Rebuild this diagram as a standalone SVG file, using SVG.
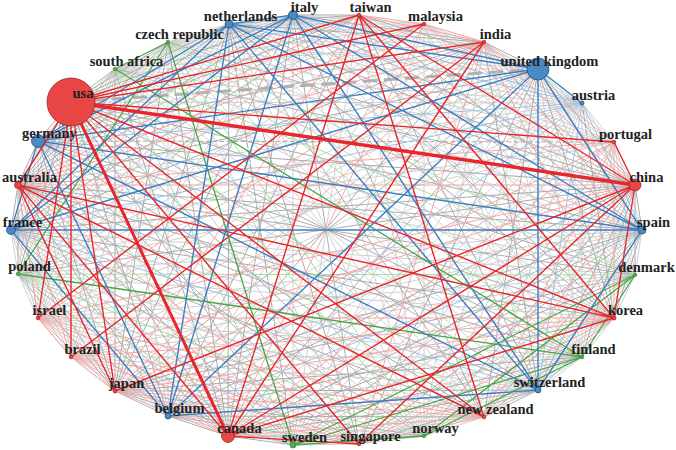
<svg xmlns="http://www.w3.org/2000/svg" width="676" height="450" viewBox="0 0 676 450">
<style>
.e{fill:none;stroke-linecap:round;stroke-linejoin:round}
.g2{stroke:#d0d0d0;stroke-width:1}
.g1{stroke:#acacac;stroke-width:1}
.rl{stroke:#f5a5a5;stroke-width:1}
.rs{stroke:#e8262b;stroke-width:1.4}
.bl{stroke:#9cc2e6;stroke-width:1}
.bs{stroke:#3d7fc1;stroke-width:1.4}
.gl{stroke:#a6dba6;stroke-width:1}
.gs{stroke:#45a845;stroke-width:1.3}
.dash{stroke:#a8a8a8;stroke-width:1;stroke-dasharray:4 3}
.r{fill:#e84545;stroke:#9a2a2a;stroke-width:0.8}
.b{fill:#4a88c6;stroke:#25527f;stroke-width:0.8}
.g{fill:#4fae4f;stroke:#2d6e2d;stroke-width:0.6}
text{font-family:"Liberation Serif","Times New Roman",serif;font-weight:bold;font-size:14.5px;fill:#222;text-anchor:middle}
</style>
<g id="connectors">
<path class="e g2" d="M38 318 538 69M38 318 38 141M38 318 11 230M38 318 293 15M38 318 229 24M38 318 642 230M38 318 538 390M38 318 168 416M71 357 538 69M71 357 38 141M71 357 11 230M71 357 293 15M71 357 229 24M71 357 642 230M71 357 538 390M71 357 168 416M614 142 538 69M614 142 11 230M614 142 293 15M614 142 229 24M614 142 642 230M614 142 538 390M614 142 168 416M424 24 538 69M424 24 38 141M424 24 11 230M424 24 293 15M424 24 229 24M424 24 642 230M424 24 538 390M424 24 168 416M582 103 71 102M582 103 18 185M582 103 38 318M582 103 71 357M582 103 115 391M582 103 228 436M582 103 359 444M582 103 484 417M582 103 614 318M582 103 635 185M582 103 614 142M582 103 484 42M582 103 424 24M582 103 359 15M614 318 115 69M614 318 168 42M614 318 18 274M614 318 293 445M614 318 424 436M614 318 582 357M614 318 635 275M484 42 115 69M484 42 168 42M484 42 18 274M484 42 293 445M484 42 424 436M484 42 582 357M484 42 635 275M359 444 115 69M359 444 168 42M359 444 18 274M359 444 293 445M359 444 424 436M359 444 582 357M359 444 635 275M484 417 115 69M484 417 168 42M484 417 18 274M484 417 293 445M484 417 424 436M484 417 582 357M484 417 635 275M359 15 115 69M359 15 168 42M359 15 18 274M359 15 293 445M359 15 424 436M359 15 582 357M359 15 635 275M38 318 115 69M38 318 168 42M38 318 18 274M38 318 293 445M38 318 424 436M38 318 582 357M38 318 635 275M71 357 115 69M71 357 168 42M71 357 18 274M71 357 293 445M71 357 424 436M71 357 582 357M71 357 635 275M614 142 115 69M614 142 168 42M614 142 18 274M614 142 293 445M614 142 424 436M614 142 582 357M614 142 635 275M424 24 115 69M424 24 168 42M424 24 18 274M424 24 293 445M424 24 424 436M424 24 582 357M424 24 635 275M38 141 115 69M38 141 168 42M38 141 18 274M38 141 293 445M38 141 424 436M38 141 582 357M38 141 635 275M11 230 115 69M11 230 168 42M11 230 18 274M11 230 293 445M11 230 424 436M11 230 582 357M11 230 635 275M168 416 115 69M168 416 168 42M168 416 18 274M168 416 293 445M168 416 424 436M168 416 582 357M168 416 635 275M538 390 115 69M538 390 168 42M538 390 18 274M538 390 293 445M538 390 424 436M538 390 582 357M538 390 635 275M642 230 115 69M642 230 168 42M642 230 18 274M642 230 293 445M642 230 424 436M642 230 582 357M642 230 635 275M582 103 115 69M582 103 168 42M582 103 18 274M582 103 293 445M582 103 424 436M582 103 582 357M582 103 635 275M538 69 115 69M538 69 168 42M538 69 18 274M538 69 293 445M538 69 424 436M538 69 582 357M538 69 635 275M293 15 115 69M293 15 168 42M293 15 18 274M293 15 293 445M293 15 424 436M293 15 582 357M293 15 635 275M229 24 115 69M229 24 168 42M229 24 18 274M229 24 293 445M229 24 424 436M229 24 582 357M229 24 635 275M38 318 18 185M71 357 38 318M115 391 71 357M614 142 424 24M614 318 484 417"/>
<path class="e g1" d="M71 102 38 141M71 102 11 230M71 102 293 15M71 102 229 24M71 102 642 230M71 102 538 390M71 102 168 416M635 185 538 69M635 185 38 141M635 185 11 230M635 185 293 15M635 185 229 24M635 185 642 230M635 185 538 390M635 185 168 416M228 436 538 69M228 436 38 141M228 436 11 230M228 436 293 15M228 436 229 24M228 436 642 230M228 436 538 390M228 436 168 416M18 185 538 69M18 185 38 141M18 185 11 230M18 185 293 15M18 185 229 24M18 185 642 230M18 185 538 390M18 185 168 416M115 391 538 69M115 391 38 141M115 391 11 230M115 391 293 15M115 391 229 24M115 391 642 230M115 391 538 390M115 391 168 416M614 318 538 69M614 318 38 141M614 318 11 230M614 318 293 15M614 318 229 24M614 318 642 230M614 318 538 390M614 318 168 416M484 42 538 69M484 42 38 141M484 42 11 230M484 42 293 15M484 42 229 24M484 42 642 230M484 42 538 390M484 42 168 416M359 444 538 69M359 444 38 141M359 444 11 230M359 444 293 15M359 444 229 24M359 444 642 230M359 444 538 390M359 444 168 416M484 417 538 69M484 417 38 141M484 417 11 230M484 417 293 15M484 417 229 24M484 417 642 230M484 417 538 390M484 417 168 416M359 15 538 69M359 15 38 141M359 15 11 230M359 15 293 15M359 15 229 24M359 15 642 230M359 15 538 390M359 15 168 416M71 102 115 69M71 102 168 42M71 102 18 274M71 102 293 445M71 102 424 436M71 102 582 357M71 102 635 275M635 185 115 69M635 185 168 42M635 185 18 274M635 185 293 445M635 185 424 436M635 185 582 357M635 185 635 275M228 436 115 69M228 436 168 42M228 436 18 274M228 436 293 445M228 436 424 436M228 436 582 357M228 436 635 275M18 185 115 69M18 185 168 42M18 185 18 274M18 185 293 445M18 185 424 436M18 185 582 357M18 185 635 275M115 391 115 69M115 391 168 42M115 391 18 274M115 391 293 445M115 391 424 436M115 391 582 357M115 391 635 275"/>
<path class="e dash" d="M38 141 614 142M293 445 229 24M582 103 614 318"/>
<path class="e" stroke="#b0b0b0" stroke-width="3" stroke-dasharray="12 9" d="M71 102 538 69"/>
<path class="e gl" d="M115 69 18 274M115 69 293 445M115 69 424 436M115 69 635 275M168 42 424 436M168 42 582 357M168 42 635 275M18 274 293 445M18 274 424 436M18 274 635 275"/>
<path class="e bl" d="M38 141 582 103M11 230 538 390M11 230 582 103M168 416 642 230M168 416 582 103M538 390 582 103M642 230 582 103M582 103 293 15M582 103 229 24"/>
<path class="e rl" d="M18 185 38 318M18 185 71 357M18 185 635 185M18 185 614 142M18 185 424 24M18 185 359 15M18 185 359 444M18 185 484 42M38 318 71 357M38 318 115 391M38 318 228 436M38 318 359 444M38 318 484 417M38 318 614 318M38 318 635 185M38 318 484 42M71 357 115 391M71 357 228 436M71 357 359 444M71 357 484 417M71 357 614 318M71 357 635 185M115 391 359 444M115 391 484 417M115 391 614 142M115 391 484 42M115 391 614 318M115 391 228 436M115 391 359 15M228 436 424 24M228 436 484 417M228 436 614 142M359 444 484 417M359 444 614 318M359 444 484 42M484 417 614 318M484 417 614 142M484 417 635 185M614 318 614 142M614 318 484 42M635 185 484 42M635 185 424 24M614 142 484 42M484 42 424 24M484 42 359 15M424 24 359 15"/>
<path class="e gs" d="M115 69 168 42M115 69 582 357M168 42 18 274M168 42 293 445M18 274 582 357M293 445 424 436M293 445 582 357M293 445 635 275M424 436 582 357M424 436 635 275M582 357 635 275"/>
<path class="e bs" d="M38 141 11 230M38 141 168 416M38 141 538 390M38 141 642 230M38 141 538 69M38 141 293 15M38 141 229 24M11 230 168 416M11 230 642 230M11 230 538 69M11 230 293 15M11 230 229 24M168 416 538 390M168 416 538 69M168 416 293 15M168 416 229 24M538 390 642 230M538 390 538 69M538 390 293 15M538 390 229 24M642 230 538 69M642 230 293 15M642 230 229 24M582 103 538 69M538 69 293 15M538 69 229 24M293 15 229 24"/>
<path class="e rs" d="M71 102 18 185M71 102 38 318M71 102 71 357M71 102 115 391M71 102 359 444M71 102 484 417M71 102 614 318M71 102 614 142M71 102 484 42M71 102 424 24M71 102 359 15M18 185 228 436M18 185 614 318M18 185 484 417M18 185 115 391M228 436 635 185M228 436 614 318M228 436 484 42M228 436 359 15M228 436 359 444M614 318 635 185M635 185 359 15M359 444 635 185M115 391 635 185M635 185 614 142M71 357 484 42M38 318 424 24M614 318 359 15M484 417 359 15"/>
<path class="e" stroke="#e8262b" stroke-width="3" d="M71 102 228 436"/>
<path class="e" stroke="#e8262b" stroke-width="3.5" d="M71 102 635 185"/>
</g>
<g id="n-usa"><circle class="r" cx="71" cy="102" r="24"/><text x="83" y="98">usa</text></g>
<g id="n-germany"><circle class="b" cx="38" cy="141" r="6.5"/><text x="49.5" y="137.5">germany</text></g>
<g id="n-australia"><circle class="r" cx="18" cy="185" r="3.5"/><text x="29.5" y="181.5">australia</text></g>
<g id="n-france"><circle class="b" cx="11" cy="230" r="4.5"/><text x="22.5" y="226.5">france</text></g>
<g id="n-poland"><circle class="g" cx="18" cy="274" r="1.8"/><text x="29.5" y="270.5">poland</text></g>
<g id="n-israel"><circle class="r" cx="38" cy="318" r="1.8"/><text x="49.5" y="314.5">israel</text></g>
<g id="n-brazil"><circle class="r" cx="71" cy="357" r="1.8"/><text x="82.5" y="353.5">brazil</text></g>
<g id="n-japan"><circle class="r" cx="115" cy="391" r="2"/><text x="126.5" y="387.5">japan</text></g>
<g id="n-belgium"><circle class="b" cx="168" cy="416" r="3"/><text x="179.5" y="412.5">belgium</text></g>
<g id="n-canada"><circle class="r" cx="228" cy="436" r="6.5"/><text x="239.5" y="432.5">canada</text></g>
<g id="n-sweden"><circle class="g" cx="293" cy="445" r="3"/><text x="304.5" y="441.5">sweden</text></g>
<g id="n-singapore"><circle class="r" cx="359" cy="444" r="1.8"/><text x="370.5" y="440.5">singapore</text></g>
<g id="n-norway"><circle class="g" cx="424" cy="436" r="1.8"/><text x="435.5" y="432.5">norway</text></g>
<g id="n-new-zealand"><circle class="r" cx="484" cy="417" r="1.8"/><text x="495.5" y="413.5">new zealand</text></g>
<g id="n-switzerland"><circle class="b" cx="538" cy="390" r="3"/><text x="549.5" y="386.5">switzerland</text></g>
<g id="n-finland"><circle class="g" cx="582" cy="357" r="1.8"/><text x="593.5" y="353.5">finland</text></g>
<g id="n-korea"><circle class="r" cx="614" cy="318" r="2"/><text x="625.5" y="314.5">korea</text></g>
<g id="n-denmark"><circle class="g" cx="635" cy="275" r="1.8"/><text x="646.5" y="271.5">denmark</text></g>
<g id="n-spain"><circle class="b" cx="642" cy="230" r="4"/><text x="653.5" y="226.5">spain</text></g>
<g id="n-china"><circle class="r" cx="635" cy="185" r="6"/><text x="646.5" y="181.5">china</text></g>
<g id="n-portugal"><circle class="r" cx="614" cy="142" r="1.8"/><text x="625.5" y="138.5">portugal</text></g>
<g id="n-austria"><circle class="b" cx="582" cy="103" r="2"/><text x="593.5" y="99.5">austria</text></g>
<g id="n-united-kingdom"><circle class="b" cx="538" cy="69" r="11"/><text x="549.5" y="65.5">united kingdom</text></g>
<g id="n-india"><circle class="r" cx="484" cy="42" r="1.8"/><text x="495.5" y="38.5">india</text></g>
<g id="n-malaysia"><circle class="r" cx="424" cy="24" r="1.8"/><text x="435.5" y="20.5">malaysia</text></g>
<g id="n-taiwan"><circle class="r" cx="359" cy="15" r="1.8"/><text x="370.5" y="11.5">taiwan</text></g>
<g id="n-italy"><circle class="b" cx="293" cy="15" r="4.5"/><text x="304.5" y="11.5">italy</text></g>
<g id="n-netherlands"><circle class="b" cx="229" cy="24" r="4"/><text x="240.5" y="20.5">netherlands</text></g>
<g id="n-czech-republic"><circle class="g" cx="168" cy="42" r="1.8"/><text x="179.5" y="38.5">czech republic</text></g>
<g id="n-south-africa"><circle class="g" cx="115" cy="69" r="1.8"/><text x="126.5" y="65.5">south africa</text></g>
</svg>
